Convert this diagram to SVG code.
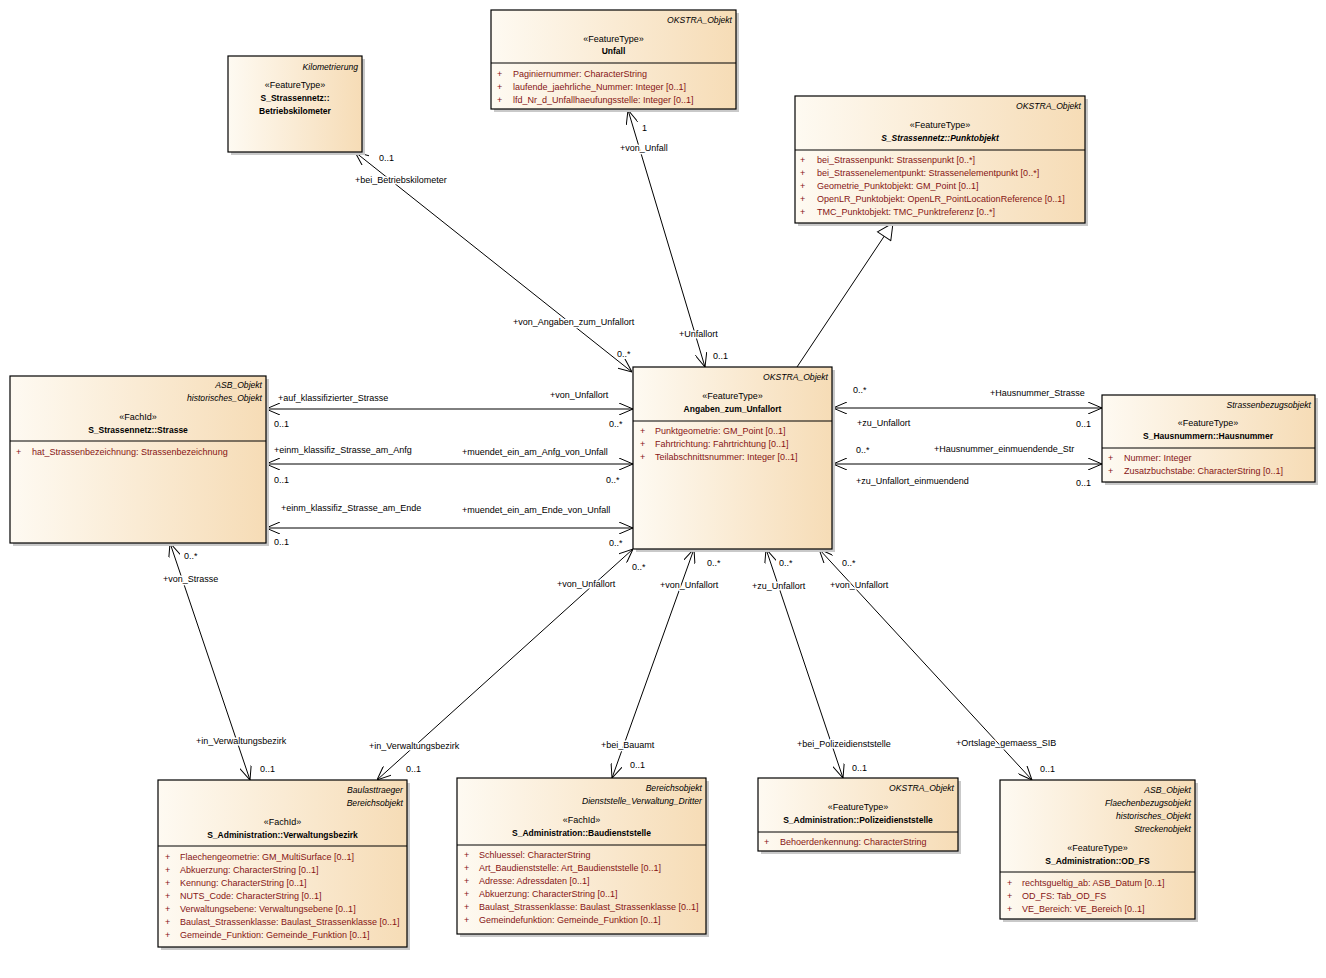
<svg xmlns="http://www.w3.org/2000/svg" width="1326" height="978" viewBox="0 0 1326 978">
<defs>
<linearGradient id="g" x1="0" y1="0" x2="1" y2="0">
<stop offset="0" stop-color="#fefaf2"/>
<stop offset="1" stop-color="#f6dcb6"/>
</linearGradient>
<marker id="a" viewBox="0 0 14 12" refX="14" refY="6" markerWidth="14" markerHeight="12" markerUnits="userSpaceOnUse" orient="auto-start-reverse">
<path d="M0,0 L14,6 L0,12" fill="none" stroke="#000" stroke-width="1"/>
</marker>
<marker id="t" viewBox="0 0 18 18" refX="17" refY="9" markerWidth="18" markerHeight="18" markerUnits="userSpaceOnUse" orient="auto">
<path d="M1,1 L17,9 L1,17 Z" fill="#fff" stroke="#000" stroke-width="1"/>
</marker>
</defs>
<style>
text{font-family:"Liberation Sans",Arial,sans-serif;font-size:9px;dominant-baseline:central;fill:#000}
.box{fill:url(#g);stroke:#000;stroke-width:1.2}
.sh{fill:#c9c9c9}
.div{stroke:#000;stroke-width:1}
.hd{font-style:italic;text-anchor:end;font-size:8.6px}
.st{text-anchor:middle}
.nm{text-anchor:middle;font-weight:bold;font-size:8.5px}
.ab{font-style:italic}
.at{fill:#861414}
.c line{stroke:#000;stroke-width:1;fill:none}
.as{marker-start:url(#a);marker-end:url(#a)}
.lb text{stroke:#fff;stroke-width:3;paint-order:stroke;stroke-linejoin:round}
</style>
<rect width="1326" height="978" fill="#fff"/>

<g id="connectors" class="c">
<line class="as" x1="355" y1="152" x2="632" y2="372"/>
<line class="as" x1="628" y1="110" x2="705" y2="367"/>
<line x1="797" y1="367" x2="893" y2="223" marker-end="url(#t)"/>
<line class="as" x1="266" y1="409" x2="633" y2="409"/>
<line class="as" x1="266" y1="464" x2="633" y2="464"/>
<line class="as" x1="266" y1="528" x2="633" y2="528"/>
<line class="as" x1="833" y1="408" x2="1102" y2="408"/>
<line class="as" x1="833" y1="464" x2="1102" y2="464"/>
<line class="as" x1="170" y1="543" x2="250" y2="780"/>
<line class="as" x1="633" y1="549" x2="377" y2="780"/>
<line class="as" x1="694" y1="549" x2="612" y2="778"/>
<line class="as" x1="766" y1="549" x2="843" y2="778"/>
<line class="as" x1="819" y1="549" x2="1032" y2="780"/>
</g>

<g id="labels" class="lb">
<text x="379" y="158">0..1</text>
<text x="355" y="180">+bei_Betriebskilometer</text>
<text x="513" y="322">+von_Angaben_zum_Unfallort</text>
<text x="617" y="354">0..*</text>
<text x="642" y="128">1</text>
<text x="620" y="148">+von_Unfall</text>
<text x="679" y="334">+Unfallort</text>
<text x="713" y="356">0..1</text>
<text x="278" y="398">+auf_klassifizierter_Strasse</text>
<text x="274" y="424">0..1</text>
<text x="550" y="395">+von_Unfallort</text>
<text x="609" y="424">0..*</text>
<text x="274" y="450">+einm_klassifiz_Strasse_am_Anfg</text>
<text x="274" y="480">0..1</text>
<text x="462" y="452">+muendet_ein_am_Anfg_von_Unfall</text>
<text x="606" y="480">0..*</text>
<text x="281" y="508">+einm_klassifiz_Strasse_am_Ende</text>
<text x="274" y="542">0..1</text>
<text x="462" y="510">+muendet_ein_am_Ende_von_Unfall</text>
<text x="609" y="543">0..*</text>
<text x="853" y="390">0..*</text>
<text x="990" y="393">+Hausnummer_Strasse</text>
<text x="857" y="423">+zu_Unfallort</text>
<text x="1076" y="424">0..1</text>
<text x="856" y="450">0..*</text>
<text x="934" y="449">+Hausnummer_einmuendende_Str</text>
<text x="856" y="481">+zu_Unfallort_einmuendend</text>
<text x="1076" y="483">0..1</text>
<text x="184" y="556">0..*</text>
<text x="163" y="579">+von_Strasse</text>
<text x="196" y="741">+in_Verwaltungsbezirk</text>
<text x="260" y="769">0..1</text>
<text x="632" y="567">0..*</text>
<text x="557" y="584">+von_Unfallort</text>
<text x="369" y="746">+in_Verwaltungsbezirk</text>
<text x="406" y="769">0..1</text>
<text x="707" y="563">0..*</text>
<text x="660" y="585">+von_Unfallort</text>
<text x="601" y="745">+bei_Bauamt</text>
<text x="630" y="765">0..1</text>
<text x="779" y="563">0..*</text>
<text x="752" y="586">+zu_Unfallort</text>
<text x="797" y="744">+bei_Polizeidienststelle</text>
<text x="852" y="768">0..1</text>
<text x="842" y="563">0..*</text>
<text x="830" y="585">+von_Unfallort</text>
<text x="956" y="743">+Ortslage_gemaess_SIB</text>
<text x="1040" y="769">0..1</text>
</g>

<g id="Betriebskilometer">
<rect class="sh" x="231" y="59" width="134" height="96"/>
<rect class="box" x="228" y="56" width="134" height="96"/>
<text class="hd" x="358" y="67">Kilometrierung</text>
<text class="st" x="295" y="85">«FeatureType»</text>
<text class="nm" x="295" y="98">S_Strassennetz::</text>
<text class="nm" x="295" y="111">Betriebskilometer</text>
</g>

<g id="Unfall">
<rect class="sh" x="494" y="13" width="245" height="99"/>
<rect class="box" x="491" y="10" width="245" height="99"/>
<text class="hd" x="732" y="20">OKSTRA_Objekt</text>
<text class="st" x="613.5" y="39">«FeatureType»</text>
<text class="nm" x="613.5" y="51">Unfall</text>
<line class="div" x1="491" y1="63" x2="736" y2="63"/>
<text class="at" x="497" y="74">+</text><text class="at" x="513" y="74">Paginiernummer: CharacterString</text>
<text class="at" x="497" y="87">+</text><text class="at" x="513" y="87">laufende_jaehrliche_Nummer: Integer [0..1]</text>
<text class="at" x="497" y="100">+</text><text class="at" x="513" y="100">lfd_Nr_d_Unfallhaeufungsstelle: Integer [0..1]</text>
</g>

<g id="Punktobjekt">
<rect class="sh" x="798" y="99" width="290" height="127"/>
<rect class="box" x="795" y="96" width="290" height="127"/>
<text class="hd" x="1081" y="106">OKSTRA_Objekt</text>
<text class="st" x="940" y="125">«FeatureType»</text>
<text class="nm ab" x="940" y="138">S_Strassennetz::Punktobjekt</text>
<line class="div" x1="795" y1="150" x2="1085" y2="150"/>
<text class="at" x="800" y="160">+</text><text class="at" x="817" y="160">bei_Strassenpunkt: Strassenpunkt [0..*]</text>
<text class="at" x="800" y="173">+</text><text class="at" x="817" y="173">bei_Strassenelementpunkt: Strassenelementpunkt [0..*]</text>
<text class="at" x="800" y="186">+</text><text class="at" x="817" y="186">Geometrie_Punktobjekt: GM_Point [0..1]</text>
<text class="at" x="800" y="199">+</text><text class="at" x="817" y="199">OpenLR_Punktobjekt: OpenLR_PointLocationReference [0..1]</text>
<text class="at" x="800" y="212">+</text><text class="at" x="817" y="212">TMC_Punktobjekt: TMC_Punktreferenz [0..*]</text>
</g>

<g id="Strasse">
<rect class="sh" x="13" y="379" width="256" height="167"/>
<rect class="box" x="10" y="376" width="256" height="167"/>
<text class="hd" x="262" y="385">ASB_Objekt</text>
<text class="hd" x="262" y="398">historisches_Objekt</text>
<text class="st" x="138" y="417">«FachId»</text>
<text class="nm" x="138" y="430">S_Strassennetz::Strasse</text>
<line class="div" x1="10" y1="441" x2="266" y2="441"/>
<text class="at" x="16" y="452">+</text><text class="at" x="32" y="452">hat_Strassenbezeichnung: Strassenbezeichnung</text>
</g>

<g id="Angaben_zum_Unfallort">
<rect class="sh" x="636" y="370" width="199" height="182"/>
<rect class="box" x="633" y="367" width="199" height="182"/>
<text class="hd" x="828" y="377">OKSTRA_Objekt</text>
<text class="st" x="732.5" y="396">«FeatureType»</text>
<text class="nm" x="732.5" y="409">Angaben_zum_Unfallort</text>
<line class="div" x1="633" y1="421" x2="832" y2="421"/>
<text class="at" x="640" y="431">+</text><text class="at" x="655" y="431">Punktgeometrie: GM_Point [0..1]</text>
<text class="at" x="640" y="444">+</text><text class="at" x="655" y="444">Fahrtrichtung: Fahrtrichtung [0..1]</text>
<text class="at" x="640" y="457">+</text><text class="at" x="655" y="457">Teilabschnittsnummer: Integer [0..1]</text>
</g>

<g id="Hausnummer">
<rect class="sh" x="1105" y="398" width="213" height="87"/>
<rect class="box" x="1102" y="395" width="213" height="87"/>
<text class="hd" x="1311" y="405">Strassenbezugsobjekt</text>
<text class="st" x="1208" y="423">«FeatureType»</text>
<text class="nm" x="1208" y="436">S_Hausnummern::Hausnummer</text>
<line class="div" x1="1102" y1="448" x2="1315" y2="448"/>
<text class="at" x="1108" y="458">+</text><text class="at" x="1124" y="458">Nummer: Integer</text>
<text class="at" x="1108" y="471">+</text><text class="at" x="1124" y="471">Zusatzbuchstabe: CharacterString [0..1]</text>
</g>

<g id="Verwaltungsbezirk">
<rect class="sh" x="161" y="783" width="249" height="167"/>
<rect class="box" x="158" y="780" width="249" height="167"/>
<text class="hd" x="403" y="790">Baulasttraeger</text>
<text class="hd" x="403" y="803">Bereichsobjekt</text>
<text class="st" x="282.5" y="822">«FachId»</text>
<text class="nm" x="282.5" y="835">S_Administration::Verwaltungsbezirk</text>
<line class="div" x1="158" y1="846" x2="407" y2="846"/>
<text class="at" x="165" y="857">+</text><text class="at" x="180" y="857">Flaechengeometrie: GM_MultiSurface [0..1]</text>
<text class="at" x="165" y="870">+</text><text class="at" x="180" y="870">Abkuerzung: CharacterString [0..1]</text>
<text class="at" x="165" y="883">+</text><text class="at" x="180" y="883">Kennung: CharacterString [0..1]</text>
<text class="at" x="165" y="896">+</text><text class="at" x="180" y="896">NUTS_Code: CharacterString [0..1]</text>
<text class="at" x="165" y="909">+</text><text class="at" x="180" y="909">Verwaltungsebene: Verwaltungsebene [0..1]</text>
<text class="at" x="165" y="922">+</text><text class="at" x="180" y="922">Baulast_Strassenklasse: Baulast_Strassenklasse [0..1]</text>
<text class="at" x="165" y="935">+</text><text class="at" x="180" y="935">Gemeinde_Funktion: Gemeinde_Funktion [0..1]</text>
</g>

<g id="Baudienststelle">
<rect class="sh" x="460" y="781" width="249" height="156"/>
<rect class="box" x="457" y="778" width="249" height="156"/>
<text class="hd" x="702" y="788">Bereichsobjekt</text>
<text class="hd" x="702" y="801">Dienststelle_Verwaltung_Dritter</text>
<text class="st" x="581.5" y="820">«FachId»</text>
<text class="nm" x="581.5" y="833">S_Administration::Baudienststelle</text>
<line class="div" x1="457" y1="845" x2="706" y2="845"/>
<text class="at" x="464" y="855">+</text><text class="at" x="479" y="855">Schluessel: CharacterString</text>
<text class="at" x="464" y="868">+</text><text class="at" x="479" y="868">Art_Baudienststelle: Art_Baudienststelle [0..1]</text>
<text class="at" x="464" y="881">+</text><text class="at" x="479" y="881">Adresse: Adressdaten [0..1]</text>
<text class="at" x="464" y="894">+</text><text class="at" x="479" y="894">Abkuerzung: CharacterString [0..1]</text>
<text class="at" x="464" y="907">+</text><text class="at" x="479" y="907">Baulast_Strassenklasse: Baulast_Strassenklasse [0..1]</text>
<text class="at" x="464" y="920">+</text><text class="at" x="479" y="920">Gemeindefunktion: Gemeinde_Funktion [0..1]</text>
</g>

<g id="Polizeidienststelle">
<rect class="sh" x="761" y="781" width="200" height="73"/>
<rect class="box" x="758" y="778" width="200" height="73"/>
<text class="hd" x="954" y="788">OKSTRA_Objekt</text>
<text class="st" x="858" y="807">«FeatureType»</text>
<text class="nm" x="858" y="820">S_Administration::Polizeidienststelle</text>
<line class="div" x1="758" y1="832" x2="958" y2="832"/>
<text class="at" x="764" y="842">+</text><text class="at" x="780" y="842">Behoerdenkennung: CharacterString</text>
</g>

<g id="OD_FS">
<rect class="sh" x="1003" y="783" width="195" height="139"/>
<rect class="box" x="1000" y="780" width="195" height="139"/>
<text class="hd" x="1191" y="790">ASB_Objekt</text>
<text class="hd" x="1191" y="803">Flaechenbezugsobjekt</text>
<text class="hd" x="1191" y="816">historisches_Objekt</text>
<text class="hd" x="1191" y="829">Streckenobjekt</text>
<text class="st" x="1097.5" y="848">«FeatureType»</text>
<text class="nm" x="1097.5" y="861">S_Administration::OD_FS</text>
<line class="div" x1="1000" y1="872" x2="1195" y2="872"/>
<text class="at" x="1007" y="883">+</text><text class="at" x="1022" y="883">rechtsgueltig_ab: ASB_Datum [0..1]</text>
<text class="at" x="1007" y="896">+</text><text class="at" x="1022" y="896">OD_FS: Tab_OD_FS</text>
<text class="at" x="1007" y="909">+</text><text class="at" x="1022" y="909">VE_Bereich: VE_Bereich [0..1]</text>
</g>
</svg>
